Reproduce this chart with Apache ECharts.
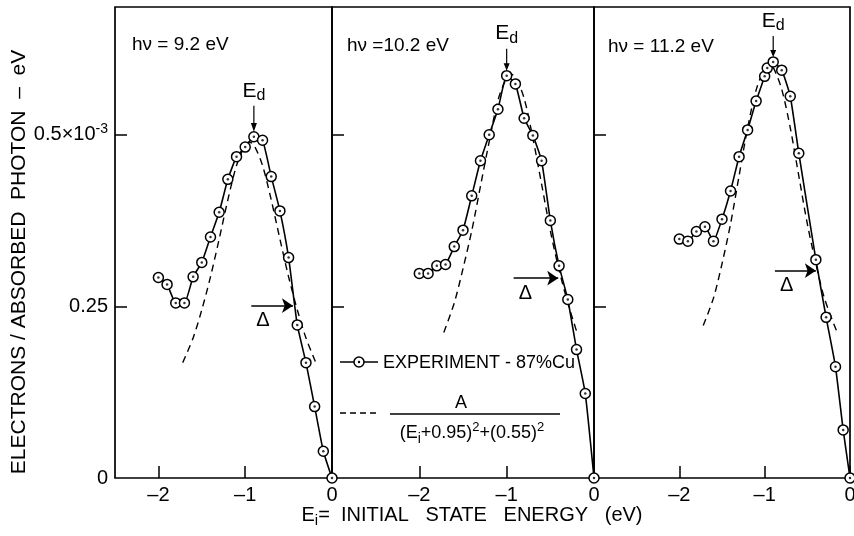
<!DOCTYPE html>
<html><head><meta charset="utf-8">
<script src="https://cdn.jsdelivr.net/npm/echarts@6/dist/echarts.min.js"></script>
<style>html,body{margin:0;padding:0;background:#fff}#c{width:854px;height:536px}</style>
</head><body><div id="c"></div>
<script>
// ---- data (y in units of 1e-3 electrons / absorbed photon) ----
const xTicks = [-2, -1, 0];
const yTicks = [0, 0.25, 0.5];
const panelTitles = ['hν = 9.2 eV', 'hν =10.2 eV', 'hν = 11.2 eV'];

const exp92 = [[-2.0,0.292],[-1.9,0.282],[-1.8,0.255],[-1.7,0.255],[-1.6,0.293],[-1.5,0.314],[-1.4,0.351],[-1.3,0.387],[-1.2,0.435],[-1.1,0.468],[-1.0,0.482],[-0.9,0.497],[-0.8,0.492],[-0.7,0.439],[-0.6,0.389],[-0.5,0.321],[-0.4,0.223],[-0.3,0.168],[-0.2,0.104],[-0.1,0.039],[0,0]];
const fit92 = [[-1.72,0.168],[-1.6,0.204],[-1.5,0.245],[-1.4,0.293],[-1.3,0.348],[-1.2,0.405],[-1.1,0.455],[-1.0,0.485],[-0.95,0.489],[-0.9,0.485],[-0.8,0.455],[-0.7,0.405],[-0.6,0.348],[-0.5,0.293],[-0.4,0.245],[-0.3,0.204],[-0.18,0.166]];

const exp102 = [[-2.0,0.298],[-1.9,0.298],[-1.8,0.309],[-1.7,0.311],[-1.6,0.337],[-1.5,0.361],[-1.4,0.411],[-1.3,0.462],[-1.2,0.500],[-1.1,0.537],[-1.0,0.586],[-0.9,0.574],[-0.8,0.524],[-0.7,0.499],[-0.6,0.462],[-0.5,0.375],[-0.4,0.309],[-0.3,0.260],[-0.2,0.187],[-0.1,0.123],[0,0]];
const fit102 = [[-1.72,0.212],[-1.6,0.255],[-1.5,0.305],[-1.4,0.360],[-1.3,0.425],[-1.2,0.490],[-1.1,0.550],[-1.0,0.583],[-0.95,0.588],[-0.9,0.584],[-0.8,0.553],[-0.7,0.495],[-0.6,0.428],[-0.5,0.360],[-0.4,0.303],[-0.3,0.255],[-0.2,0.214]];

const exp112 = [[-2.0,0.348],[-1.9,0.345],[-1.8,0.359],[-1.7,0.366],[-1.6,0.345],[-1.5,0.377],[-1.4,0.418],[-1.3,0.468],[-1.2,0.507],[-1.1,0.549],[-1.0,0.585],[-0.97,0.597],[-0.9,0.606],[-0.8,0.594],[-0.7,0.556],[-0.6,0.473],[-0.4,0.318],[-0.28,0.234],[-0.17,0.162],[-0.08,0.070],[0,0]];
const fit112 = [[-1.72,0.222],[-1.6,0.262],[-1.5,0.312],[-1.4,0.370],[-1.3,0.440],[-1.2,0.510],[-1.1,0.565],[-1.0,0.597],[-0.95,0.602],[-0.9,0.598],[-0.8,0.566],[-0.7,0.510],[-0.6,0.440],[-0.5,0.370],[-0.4,0.312],[-0.3,0.262],[-0.16,0.215]];

const xMins = [-2.5, -3, -3];
const yMax = 0.686;

// ---- layout / style ----
const FONT = 'Liberation Sans, Arial, sans-serif';
const grids = [
  {left:115, width:217}, {left:332, width:262}, {left:594, width:256}
];
const panels = [
  {exp: exp92, fit: fit92, arrowLen: 26, delta: [[-0.93,0.251],[-0.45,0.251]]},
  {exp: exp102, fit: fit102, arrowLen: 22, delta: [[-0.92,0.291],[-0.41,0.291]]},
  {exp: exp112, fit: fit112, arrowLen: 21, delta: [[-0.88,0.302],[-0.40,0.302]]}
];

const option = {
  animation: false,
  backgroundColor: '#fff',
  textStyle: {fontFamily: FONT, color: '#000'},
  grid: grids.map(g => ({
    left: g.left, width: g.width, top: 7, bottom: 58,
    show: true, borderColor: '#000', borderWidth: 1.7, backgroundColor: 'transparent',
    containLabel: false, outerBoundsMode: 'none'
  })),
  xAxis: grids.map((g, i) => ({
    type: 'value', gridIndex: i, min: xMins[i], max: 0, position: 'bottom',
    axisLine: {show: false, onZero: false}, splitLine: {show: false},
    axisTick: {show: true, inside: true, length: 12, customValues: xTicks, lineStyle: {color: '#000', width: 1.5}},
    axisLabel: {customValues: xTicks, fontSize: 20, color: '#000', margin: 7, fontFamily: FONT,
      formatter: v => v < 0 ? '–' + Math.abs(v) : String(v)}
  })),
  yAxis: grids.map((g, i) => ({
    type: 'value', gridIndex: i, min: 0, max: yMax, position: 'left',
    axisLine: {show: false, onZero: false}, splitLine: {show: false},
    axisTick: {show: true, inside: true, length: 12, customValues: [0.25, 0.5], lineStyle: {color: '#000', width: 1.5}},
    axisLabel: {show: i === 0, customValues: yTicks, fontSize: 20, color: '#000', margin: 7, fontFamily: FONT,
      formatter: v => v === 0.5 ? '{a|0.5×10}{s|-3}' : (v === 0 ? '0' : String(v)),
      rich: {a: {fontSize: 20, fontFamily: FONT, color: '#000'}, s: {fontSize: 14, fontFamily: FONT, color: '#000', padding: [0,0,11,0]}}}
  })),
  series: [],
  graphic: []
};

panels.forEach((p, i) => {
  option.series.push({
    type: 'line', xAxisIndex: i, yAxisIndex: i, data: p.fit, showSymbol: false, smooth: 0.3,
    lineStyle: {color: '#000', width: 1.4, type: [7, 5]}, z: 2, silent: true,
    markLine: {
      silent: true, symbol: ['none', 'arrow'], symbolSize: 11,
      lineStyle: {type: 'solid', color: '#000', width: 1.5},
      label: {show: true, formatter: 'Δ', position: 'insideStartBottom', fontSize: 20, color: '#000', fontFamily: FONT, distance: 5},
      data: [[{coord: p.delta[0]}, {coord: p.delta[1]}]]
    }
  });
  option.series.push({
    type: 'line', xAxisIndex: i, yAxisIndex: i, data: p.exp, smooth: 0.15,
    symbol: 'circle', symbolSize: 10, showSymbol: true,
    itemStyle: {color: '#fff', borderColor: '#000', borderWidth: 1.5},
    lineStyle: {color: '#000', width: 1.6}, z: 3, silent: true,
    markPoint: {
      silent: true,
      symbol: 'path://M4.4 0 L5.6 0 L5.6 20 L8 20 L5 30 L2 20 L4.4 20 Z',
      symbolSize: [6, p.arrowLen],
      symbolOffset: [0, -(5 + p.arrowLen / 2)],
      itemStyle: {color: '#000'},
      label: {show: true, position: 'top', distance: 2, formatter: '{e|E}{d|d}',
        rich: {e: {fontSize: 21, fontFamily: FONT, color: '#000'}, d: {fontSize: 16, fontFamily: FONT, color: '#000', padding: [10,0,0,0]}}},
      data: [{type: 'max', valueDim: 'y'}]
    }
  });
  option.series.push({
    type: 'scatter', xAxisIndex: i, yAxisIndex: i, data: p.exp, symbolSize: 2.5,
    itemStyle: {color: '#000'}, z: 4, silent: true
  });
});

const titlePos = [[132, 45], [347, 46], [608, 47]];
panelTitles.forEach((t, i) => {
  option.graphic.push({type: 'text', x: titlePos[i][0], y: titlePos[i][1],
    style: {text: t, fontSize: 19, fontFamily: FONT, fill: '#000', verticalAlign: 'middle', align: 'left'}});
});

// axis titles
option.graphic.push({type: 'text', x: 19, y: 262, rotation: Math.PI / 2,
  style: {text: 'ELECTRONS / ABSORBED  PHOTON  –  eV', fontSize: 21, fontFamily: FONT, fill: '#000', align: 'center', verticalAlign: 'middle'}});
option.graphic.push({type: 'text', x: 472, y: 515,
  style: {text: '{n|E}{sub|i}{n|=  INITIAL   STATE   ENERGY   (eV)}', align: 'center', verticalAlign: 'middle',
    rich: {n: {fontSize: 20, fontFamily: FONT, fill: '#000'}, sub: {fontSize: 15, fontFamily: FONT, fill: '#000', padding: [12,0,0,0]}}}});

// legend
option.graphic.push({type: 'line', shape: {x1: 340, y1: 362, x2: 378, y2: 362}, style: {stroke: '#000', lineWidth: 1.6}});
option.graphic.push({type: 'circle', shape: {cx: 359, cy: 362, r: 5}, style: {fill: '#fff', stroke: '#000', lineWidth: 1.5}, z: 10});
option.graphic.push({type: 'circle', shape: {cx: 359, cy: 362, r: 1.2}, style: {fill: '#000'}, z: 11});
option.graphic.push({type: 'text', x: 383, y: 363,
  style: {text: 'EXPERIMENT - 87%Cu', fontSize: 18, fontFamily: FONT, fill: '#000', verticalAlign: 'middle'}});
option.graphic.push({type: 'line', shape: {x1: 340, y1: 413, x2: 380, y2: 413}, style: {stroke: '#000', lineWidth: 1.4, lineDash: [6, 4]}});
option.graphic.push({type: 'text', x: 461, y: 403,
  style: {text: 'A', fontSize: 18, fontFamily: FONT, fill: '#000', align: 'center', verticalAlign: 'middle'}});
option.graphic.push({type: 'line', shape: {x1: 390, y1: 414, x2: 560, y2: 414}, style: {stroke: '#000', lineWidth: 1.5}});
option.graphic.push({type: 'text', x: 472, y: 433,
  style: {text: '{n|(E}{sub|i}{n|+0.95)}{sup|2}{n|+(0.55)}{sup|2}', align: 'center', verticalAlign: 'middle',
    rich: {n: {fontSize: 18, fontFamily: FONT, fill: '#000'},
           sub: {fontSize: 14, fontFamily: FONT, fill: '#000', padding: [12,0,0,0]},
           sup: {fontSize: 13, fontFamily: FONT, fill: '#000', padding: [0,0,12,0]}}}});

const chart = echarts.init(document.getElementById('c'), null, {renderer: 'canvas'});
chart.setOption(option);
</script>
</body></html>
